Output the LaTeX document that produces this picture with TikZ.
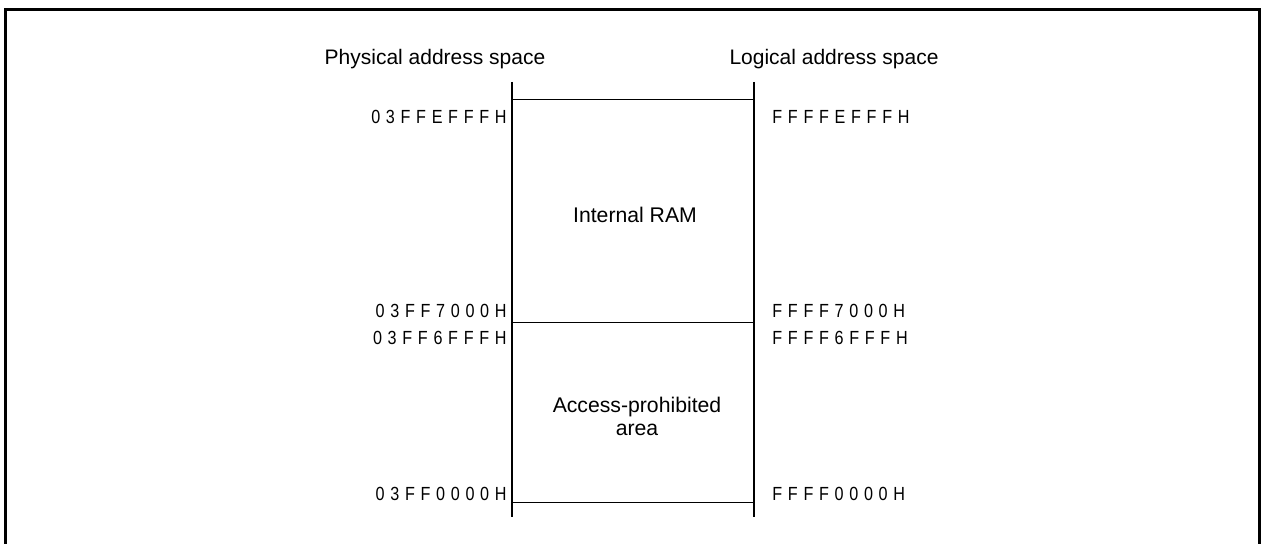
\documentclass[tikz,border=0pt]{standalone}
\usepackage{fontspec}
\setmainfont{Liberation Sans}
\newfontfamily\addrfont[LetterSpace=30, FakeStretch=0.85]{Liberation Sans}
\usetikzlibrary{positioning}

\tikzset{
  spacetitle/.style={font=\fontsize{10.5}{12}\selectfont, inner sep=0pt, anchor=base},
  addr/.style={font=\addrfont\fontsize{9.5}{10}\selectfont, inner sep=0pt},
  areatext/.style={font=\fontsize{10.6}{11.5}\selectfont, align=center, inner sep=0pt, anchor=base},
  axis/.style={line width=1.2pt},
  boundary/.style={line width=0.5pt}
}

\begin{document}
\begin{tikzpicture}[x=0.5pt, y=-0.5pt]

\useasboundingbox (0,0) rectangle (1261,544);

% Frame

\draw[line width=1.5pt] (5.5,544) -- (5.5,10) -- (1259.5,10) -- (1259.5,544);

% Titles

\node[spacetitle] (PhysTitle) at (435,65) {Physical address space};
\node[spacetitle] (LogTitle)  at (834,65) {Logical address space};

% Address axes

\coordinate (PhysTop) at (512,82);
\coordinate (PhysBot) at (512,517);
\coordinate (LogTop)  at (754,82);
\coordinate (LogBot)  at (754,517);

\draw[axis] (PhysTop) -- (PhysBot);
\draw[axis] (LogTop) -- (LogBot);

% Area boundaries

\coordinate (PhysEdge0) at (512,100);
\coordinate (PhysEdge1) at (512,323);
\coordinate (PhysEdge2) at (512,502);
\coordinate (LogEdge0)  at (754,100);
\coordinate (LogEdge1)  at (754,323);
\coordinate (LogEdge2)  at (754,502);

\draw[boundary] (PhysEdge0) -- (LogEdge0);
\draw[boundary] (PhysEdge1) -- (LogEdge1);
\draw[boundary] (PhysEdge2) -- (LogEdge2);

% Physical addresses

\node[addr, anchor=base east] (PhysAddr0) at (507,124) {03FFEFFFH};
\node[addr, anchor=base east] (PhysAddr1) at (507,318) {03FF7000H};
\node[addr, anchor=base east] (PhysAddr2) at (507,345) {03FF6FFFH};
\node[addr, anchor=base east] (PhysAddr3) at (507,500) {03FF0000H};

% Logical addresses

\node[addr, anchor=base west] (LogAddr0) at (772,124) {FFFFEFFFH};
\node[addr, anchor=base west] (LogAddr1) at (772,318) {FFFF7000H};
\node[addr, anchor=base west] (LogAddr2) at (772,345) {FFFF6FFFH};
\node[addr, anchor=base west] (LogAddr3) at (772,500) {FFFF0000H};

% Areas

\node[areatext] (InternalRAM) at (635,223) {Internal RAM};
\node[areatext] (Prohibited)  at (637,435) {Access-prohibited\\area};

\end{tikzpicture}
\end{document}
